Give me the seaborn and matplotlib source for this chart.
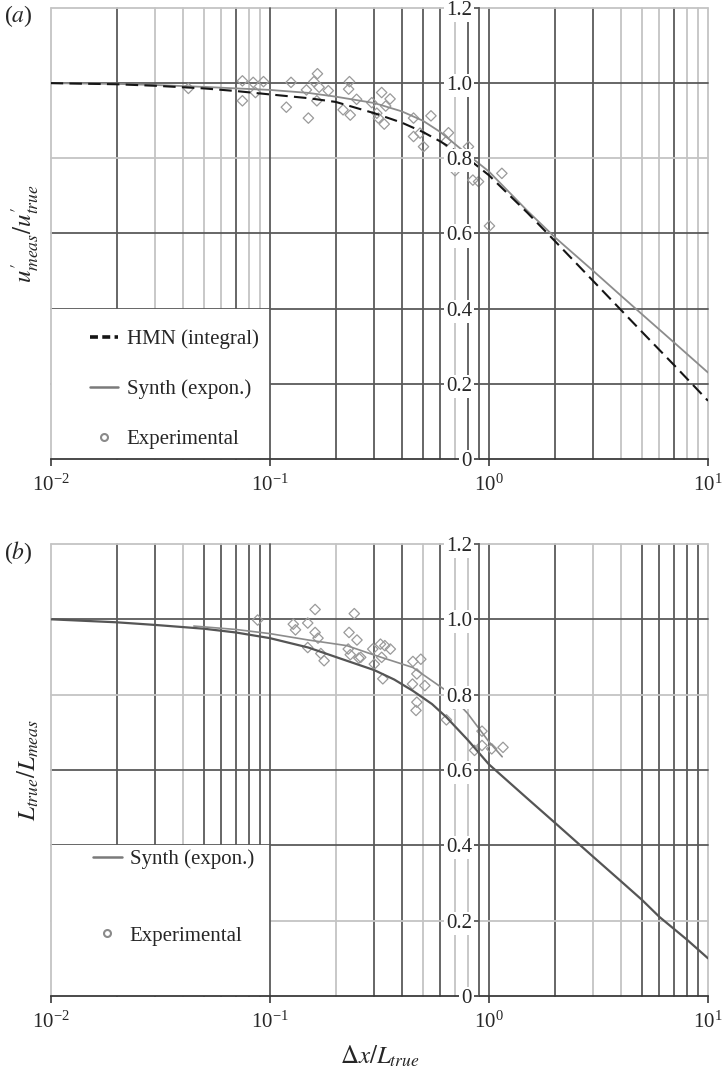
import matplotlib
matplotlib.use("Agg")
import matplotlib.pyplot as plt
from matplotlib.lines import Line2D
from matplotlib.patches import Rectangle
import pandas as pd
import seaborn as sns

# ---- data ----
# panel (a): u'_meas / u'_true
xa_curve = [0.01, 0.02, 0.03, 0.05, 0.07, 0.1, 0.15, 0.2, 0.3, 0.4, 0.5, 0.6, 0.8, 1.0, 1.5, 2, 3, 4, 5, 7, 10]
synth_a = [1.0, 0.998, 0.995, 0.99, 0.986, 0.982, 0.974, 0.964, 0.947, 0.925, 0.90, 0.87, 0.81, 0.765, 0.66, 0.59, 0.50, 0.435, 0.385, 0.31, 0.23]
hmn_a = [1.0, 0.997, 0.993, 0.986, 0.979, 0.97, 0.96, 0.95, 0.92, 0.895, 0.87, 0.845, 0.80, 0.755, 0.655, 0.58, 0.473, 0.397, 0.338, 0.25, 0.155]

exp_a_x = [0.0425, 0.075, 0.084, 0.0936, 0.075, 0.086, 0.125, 0.119, 0.150, 0.165, 0.159, 0.147,
           0.168, 0.185, 0.164, 0.231, 0.229, 0.249, 0.233, 0.216, 0.292, 0.324, 0.354, 0.338,
           0.308, 0.333, 0.313, 0.453, 0.453, 0.503, 0.544, 0.654, 0.639, 0.485, 0.807, 0.701,
           0.845, 0.897, 1.146, 1.006]
exp_a_y = [0.986, 1.006, 1.002, 1.004, 0.953, 0.975, 1.002, 0.936, 0.907, 1.025, 1.004, 0.982,
           0.989, 0.98, 0.953, 1.004, 0.984, 0.957, 0.915, 0.929, 0.948, 0.975, 0.958, 0.939,
           0.92, 0.891, 0.907, 0.907, 0.858, 0.831, 0.913, 0.868, 0.845, 0.867, 0.831, 0.767,
           0.742, 0.738, 0.760, 0.62]

# panel (b): L_true / L_meas
xb_curve = [0.01, 0.02, 0.03, 0.05, 0.07, 0.1, 0.15, 0.2, 0.3, 0.37, 0.45, 0.55, 0.64, 0.8, 1.0,
            1.5, 2, 3, 4, 5, 6, 8, 10]
lower_b = [1.0, 0.992, 0.985, 0.975, 0.965, 0.95, 0.925, 0.90, 0.865, 0.84, 0.81, 0.775, 0.74,
           0.68, 0.615, 0.524, 0.46, 0.369, 0.305, 0.255, 0.21, 0.15, 0.10]
xb_synth = [0.045, 0.07, 0.1, 0.15, 0.225, 0.3, 0.45, 0.64, 0.8, 1.0, 1.15]
synth_b = [0.982, 0.973, 0.962, 0.945, 0.93, 0.905, 0.872, 0.81, 0.75, 0.675, 0.635]

exp_b_x = [0.088, 0.128, 0.131, 0.149, 0.161, 0.161, 0.166, 0.149, 0.171, 0.177, 0.243, 0.23,
           0.25, 0.228, 0.233, 0.255, 0.295, 0.30, 0.26, 0.32, 0.335, 0.355, 0.324, 0.328,
           0.45, 0.489, 0.469, 0.448, 0.51, 0.469, 0.465, 0.64, 0.69, 0.93, 0.93, 0.86,
           1.03, 1.16]
exp_b_y = [0.998, 0.987, 0.972, 0.99, 1.026, 0.965, 0.95, 0.925, 0.909, 0.89, 1.015, 0.965,
           0.945, 0.921, 0.906, 0.897, 0.921, 0.881, 0.899, 0.934, 0.93, 0.921, 0.899, 0.842,
           0.888, 0.894, 0.855, 0.828, 0.824, 0.78, 0.758, 0.733, 0.775, 0.703, 0.665, 0.652,
           0.656, 0.66]

y_ticks = [0, 0.2, 0.4, 0.6, 0.8, 1.0, 1.2]
y_ticklabels = ["0", "0.2", "0.4", "0.6", "0.8", "1.0", "1.2"]

sns.set_style("white")
plt.rcParams["font.family"] = ["Liberation Serif", "DejaVu Serif"]
plt.rcParams["mathtext.fontset"] = "stix"

DARK = "#5a5a5a"
LIGHT = "#c4c4c4"

# which gridlines look dark in the scanned figure
dark_v_a = {0.02, 0.07, 0.1, 0.2, 0.3, 0.4, 0.5, 0.6, 0.8, 1, 2, 3, 7}
dark_v_b = {0.02, 0.03, 0.05, 0.06, 0.07, 0.08, 0.09, 0.1, 0.3, 0.4, 0.6, 1, 2, 5, 6, 7, 8, 9}
dark_h_a = {0.2, 0.4, 0.6, 1.0}
dark_h_b = {0.4, 0.6, 1.0}


def grid_positions():
    pos = []
    for d in [0.01, 0.1, 1]:
        for k in range(1, 10):
            pos.append(round(d * k, 3))
    pos.append(10)
    return pos


def style_axes(ax, dark_v, dark_h):
    ax.set_xscale("log")
    ax.set_xlim(0.01, 10)
    ax.set_ylim(0, 1.2)
    for p in grid_positions():
        if abs(p - 0.9) < 1e-9:
            continue
        c = DARK if p in dark_v else LIGHT
        z = 0.9 if p in (0.01, 0.1) else 0.3
        ax.axvline(p, color=c, lw=1.3, zorder=z, clip_on=False)
    for t in [0.2, 0.4, 0.6, 0.8, 1.0, 1.2]:
        c = DARK if t in dark_h else LIGHT
        ax.axhline(t, color=c, lw=1.3, zorder=0.3, clip_on=False)
    # blank area behind the legend
    ax.add_patch(Rectangle((0, 0), 1 / 3, 0.4 / 1.2, transform=ax.transAxes,
                           facecolor="white", edgecolor="none", zorder=0.6))
    for s in ["top", "right"]:
        ax.spines[s].set_visible(False)
    ax.spines["left"].set_position(("data", 0.9))
    ax.spines["left"].set_color(DARK)
    ax.spines["left"].set_linewidth(1.3)
    ax.spines["bottom"].set_color("#3a3a3a")
    ax.spines["bottom"].set_linewidth(1.3)
    ax.set_yticks(y_ticks, y_ticklabels)
    ax.set_xticks([0.01, 0.1, 1, 10])
    ax.xaxis.set_minor_locator(matplotlib.ticker.NullLocator())
    ax.tick_params(axis="x", which="major", direction="out", length=5, width=1.2,
                   color="#3a3a3a", labelsize=15, pad=6, bottom=True)
    ax.tick_params(axis="y", direction="out", length=4, width=1.2, color=DARK,
                   labelsize=15, pad=1, left=True)
    for lab in ax.get_yticklabels():
        lab.set_bbox(dict(facecolor="white", edgecolor="none", pad=1.5))
    ax.set_axisbelow(False)


fig = plt.figure(figsize=(7.22, 10.75), dpi=100)
ax1 = fig.add_axes([0.0702, 0.5730, 0.9104, 0.4196])
ax2 = fig.add_axes([0.0702, 0.0735, 0.9104, 0.4205])

# ---- panel (a) ----
style_axes(ax1, dark_v_a, dark_h_a)
df_a = pd.DataFrame({"x": xa_curve, "synth": synth_a, "hmn": hmn_a})
sns.lineplot(data=df_a, x="x", y="synth", ax=ax1, color="#8c8c8c", lw=1.3,
             estimator=None, sort=False, legend=False, zorder=2)
sns.lineplot(data=df_a, x="x", y="hmn", ax=ax1, color="#151515", lw=1.5,
             linestyle=(0, (6, 3)), estimator=None, sort=False, legend=False, zorder=2.1)
sns.scatterplot(x=exp_a_x, y=exp_a_y, ax=ax1, marker="D", s=28, facecolors="none",
                edgecolor="#9a9a9a", linewidth=0.9, zorder=1.5)

handles_a = [Line2D([], [], color="#151515", lw=2.6, linestyle=(0, (2.2, 1.2))),
             Line2D([], [], color="#7a7a7a", lw=1.8),
             Line2D([], [], marker="o", ls="", mfc="none", mec="#8a8a8a", mew=1.5, ms=5)]
ax1.legend(handles_a, ["HMN (integral)", "Synth (expon.)", "Experimental"],
           loc="upper left", bbox_to_anchor=(0.06, 0.287), frameon=False, fontsize=15,
           labelspacing=1.45, handlelength=1.35, handletextpad=0.4, borderpad=0,
           borderaxespad=0)

ax1.set_xlabel("")
ax1.set_ylabel(r"$u^{\prime}_{meas}/u^{\prime}_{true}$", fontsize=18)
ax1.yaxis.set_label_coords(-0.015, 0.5)

# ---- panel (b) ----
style_axes(ax2, dark_v_b, dark_h_b)
df_b = pd.DataFrame({"x": xb_curve, "y": lower_b})
df_bs = pd.DataFrame({"x": xb_synth, "y": synth_b})
sns.lineplot(data=df_b, x="x", y="y", ax=ax2, color="#555555", lw=1.6,
             estimator=None, sort=False, legend=False, zorder=2)
sns.lineplot(data=df_bs, x="x", y="y", ax=ax2, color="#8c8c8c", lw=1.2,
             estimator=None, sort=False, legend=False, zorder=2.1)
sns.scatterplot(x=exp_b_x, y=exp_b_y, ax=ax2, marker="D", s=28, facecolors="none",
                edgecolor="#9a9a9a", linewidth=0.9, zorder=1.5)

handles_b = [Line2D([], [], color="#7a7a7a", lw=1.8),
             Line2D([], [], marker="o", ls="", mfc="none", mec="#8a8a8a", mew=1.5, ms=5)]
ax2.legend(handles_b, ["Synth (expon.)", "Experimental"],
           loc="upper left", bbox_to_anchor=(0.065, 0.325), frameon=False, fontsize=15,
           labelspacing=2.75, handlelength=1.35, handletextpad=0.4, borderpad=0,
           borderaxespad=0)

ax2.set_ylabel(r"$L_{true}/L_{meas}$", fontsize=18)
ax2.yaxis.set_label_coords(-0.015, 0.5)
ax2.set_xlabel(r"$\Delta x/L_{true}$", fontsize=18)
ax2.xaxis.set_label_coords(0.5, -0.105)

fig.text(0.006, 1 - 16 / 1075, r"($a$)", fontsize=17, va="center", ha="left")
fig.text(0.006, 1 - 553 / 1075, r"($b$)", fontsize=17, va="center", ha="left")

fig.savefig("out.png", dpi=100)
